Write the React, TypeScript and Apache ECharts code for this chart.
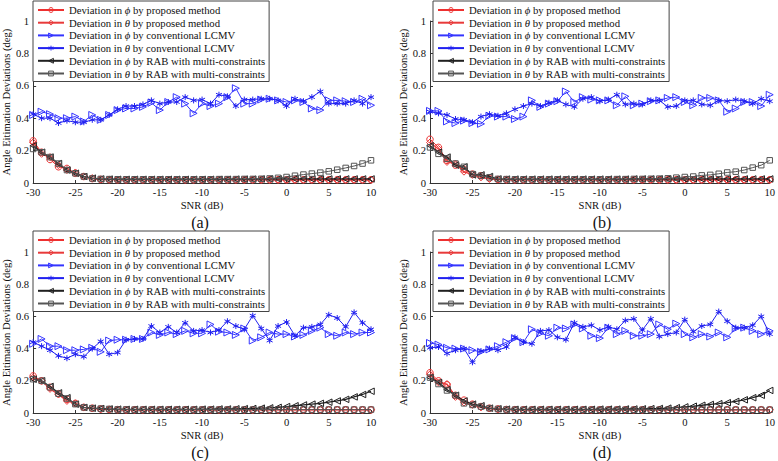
import React, { useEffect, useRef } from "react";
import * as echarts from "echarts";

const SNR = [
  -30, -29, -28, -27, -26, -25, -24, -23, -22, -21,
  -20, -19, -18, -17, -16, -15, -14, -13, -12, -11,
  -10, -9, -8, -7, -6, -5, -4, -3, -2, -1,
  0, 1, 2, 3, 4, 5, 6, 7, 8, 9, 10,
];

const X_TICKS = [-30, -25, -20, -15, -10, -5, 0, 5, 10];
const Y_TICKS = [0, 0.2, 0.4, 0.6, 0.8, 1];

const SERIES_NAMES = [
  "Deviation in ϕ by proposed method",
  "Deviation in θ by proposed method",
  "Deviation in ϕ by conventional LCMV",
  "Deviation in θ by conventional LCMV",
  "Deviation in ϕ by RAB with multi-constraints",
  "Deviation in θ by RAB with multi-constraints",
];

const PANEL_LABELS = ["(a)", "(b)", "(c)", "(d)"];

// ---------- (a) ----------
const A_phiProp = [
  0.26, 0.19, 0.145, 0.1, 0.09, 0.06, 0.04, 0.027, 0.022, 0.021,
  0.02, 0.02, 0.02, 0.02, 0.02, 0.02, 0.02, 0.02, 0.02, 0.02,
  0.02, 0.02, 0.02, 0.02, 0.02, 0.02, 0.02, 0.02, 0.02, 0.02,
  0.02, 0.02, 0.02, 0.02, 0.02, 0.02, 0.02, 0.02, 0.02, 0.02, 0.02,
];
const A_thetaProp = [
  0.25, 0.18, 0.16, 0.11, 0.08, 0.065, 0.04, 0.03, 0.022, 0.021,
  0.021, 0.02, 0.02, 0.02, 0.02, 0.02, 0.02, 0.02, 0.02, 0.02,
  0.02, 0.02, 0.02, 0.02, 0.02, 0.02, 0.02, 0.02, 0.02, 0.02,
  0.02, 0.02, 0.02, 0.02, 0.02, 0.02, 0.02, 0.02, 0.02, 0.02, 0.02,
];
const A_phiLC = [
  0.42, 0.44, 0.425, 0.4, 0.4, 0.41, 0.38, 0.42, 0.39, 0.42,
  0.45, 0.46, 0.46, 0.47, 0.495, 0.45, 0.5, 0.53, 0.49, 0.43,
  0.49, 0.475, 0.49, 0.53, 0.585, 0.49, 0.49, 0.515, 0.52, 0.51,
  0.5, 0.51, 0.5, 0.46, 0.45, 0.51, 0.51, 0.505, 0.5, 0.52, 0.48,
];
const A_thetaLC = [
  0.425, 0.4, 0.4, 0.37, 0.385, 0.375, 0.375, 0.39, 0.39, 0.42,
  0.455, 0.475, 0.475, 0.485, 0.51, 0.49, 0.5, 0.5, 0.53, 0.51,
  0.515, 0.49, 0.545, 0.535, 0.475, 0.515, 0.515, 0.52, 0.52, 0.51,
  0.475, 0.52, 0.505, 0.53, 0.565, 0.49, 0.49, 0.49, 0.51, 0.49, 0.53,
];
const A_phiRAB = [
  0.23, 0.19, 0.16, 0.12, 0.08, 0.06, 0.04, 0.03, 0.025, 0.024,
  0.023, 0.023, 0.023, 0.023, 0.023, 0.023, 0.023, 0.023, 0.023, 0.023,
  0.023, 0.023, 0.023, 0.023, 0.024, 0.024, 0.024, 0.025, 0.025, 0.025,
  0.025, 0.025, 0.025, 0.025, 0.025, 0.025, 0.025, 0.025, 0.025, 0.025, 0.025,
];
const A_thetaRAB = [
  0.21, 0.19, 0.16, 0.12, 0.08, 0.06, 0.04, 0.028, 0.025, 0.024,
  0.023, 0.023, 0.023, 0.023, 0.023, 0.023, 0.023, 0.023, 0.023, 0.023,
  0.023, 0.023, 0.024, 0.024, 0.024, 0.025, 0.025, 0.026, 0.028, 0.032,
  0.037, 0.045, 0.052, 0.058, 0.064, 0.072, 0.082, 0.093, 0.105, 0.12, 0.14,
];

// ---------- (b) ----------
const B_phiProp = [
  0.27, 0.22, 0.14, 0.11, 0.085, 0.055, 0.045, 0.03, 0.022, 0.021,
  0.02, 0.02, 0.02, 0.02, 0.02, 0.02, 0.02, 0.02, 0.02, 0.02,
  0.02, 0.02, 0.02, 0.02, 0.02, 0.02, 0.02, 0.02, 0.02, 0.02,
  0.02, 0.02, 0.02, 0.02, 0.02, 0.02, 0.02, 0.02, 0.02, 0.02, 0.02,
];
const B_thetaProp = [
  0.25, 0.21, 0.13, 0.12, 0.07, 0.05, 0.035, 0.025, 0.021, 0.02,
  0.02, 0.02, 0.02, 0.02, 0.02, 0.02, 0.02, 0.02, 0.02, 0.02,
  0.02, 0.02, 0.02, 0.02, 0.02, 0.02, 0.02, 0.02, 0.02, 0.02,
  0.02, 0.02, 0.02, 0.02, 0.02, 0.02, 0.02, 0.02, 0.02, 0.02, 0.02,
];
const B_phiLC = [
  0.445, 0.445, 0.38, 0.37, 0.385, 0.37, 0.365, 0.415, 0.41, 0.41,
  0.395, 0.41, 0.51, 0.47, 0.49, 0.505, 0.565, 0.5, 0.53, 0.515,
  0.51, 0.51, 0.48, 0.535, 0.48, 0.49, 0.505, 0.51, 0.525, 0.53,
  0.5, 0.48, 0.525, 0.525, 0.51, 0.44, 0.46, 0.5, 0.5, 0.475, 0.545,
];
const B_thetaLC = [
  0.44, 0.43, 0.42, 0.395, 0.39, 0.375, 0.41, 0.425, 0.415, 0.43,
  0.455, 0.475, 0.49, 0.475, 0.495, 0.51, 0.485, 0.47, 0.52, 0.53,
  0.505, 0.515, 0.545, 0.485, 0.49, 0.485, 0.51, 0.51, 0.47, 0.475,
  0.51, 0.51, 0.485, 0.48, 0.51, 0.505, 0.515, 0.505, 0.49, 0.52, 0.505,
];
const B_phiRAB = [
  0.23, 0.19, 0.16, 0.11, 0.1, 0.05, 0.05, 0.04, 0.025, 0.024,
  0.024, 0.024, 0.024, 0.024, 0.024, 0.024, 0.024, 0.024, 0.024, 0.024,
  0.024, 0.024, 0.024, 0.024, 0.025, 0.025, 0.025, 0.025, 0.025, 0.025,
  0.025, 0.025, 0.025, 0.025, 0.025, 0.025, 0.025, 0.025, 0.025, 0.025, 0.025,
];
const B_thetaRAB = [
  0.22, 0.18, 0.15, 0.12, 0.1, 0.055, 0.045, 0.035, 0.025, 0.024,
  0.023, 0.023, 0.023, 0.023, 0.023, 0.023, 0.023, 0.023, 0.023, 0.023,
  0.023, 0.023, 0.024, 0.024, 0.025, 0.025, 0.026, 0.027, 0.029, 0.033,
  0.037, 0.04, 0.047, 0.05, 0.057, 0.065, 0.07, 0.08, 0.095, 0.11, 0.14,
];

// ---------- (c) ----------
const C_phiProp = [
  0.23, 0.2, 0.16, 0.12, 0.085, 0.06, 0.035, 0.03, 0.025, 0.022,
  0.021, 0.02, 0.02, 0.02, 0.02, 0.02, 0.02, 0.02, 0.02, 0.02,
  0.02, 0.02, 0.02, 0.02, 0.02, 0.02, 0.02, 0.02, 0.02, 0.02,
  0.02, 0.02, 0.02, 0.02, 0.02, 0.02, 0.02, 0.02, 0.02, 0.02, 0.02,
];
const C_thetaProp = [
  0.22, 0.2, 0.15, 0.115, 0.075, 0.06, 0.035, 0.028, 0.024, 0.022,
  0.021, 0.02, 0.02, 0.02, 0.02, 0.02, 0.02, 0.02, 0.02, 0.02,
  0.02, 0.02, 0.02, 0.02, 0.02, 0.02, 0.02, 0.02, 0.02, 0.02,
  0.02, 0.02, 0.02, 0.02, 0.02, 0.02, 0.02, 0.02, 0.02, 0.02, 0.02,
];
const C_phiLC = [
  0.43, 0.46, 0.415, 0.415, 0.39, 0.39, 0.395, 0.405, 0.38, 0.45,
  0.455, 0.455, 0.46, 0.46, 0.5, 0.485, 0.5, 0.49, 0.51, 0.495,
  0.495, 0.55, 0.505, 0.5, 0.485, 0.525, 0.45, 0.47, 0.5, 0.49,
  0.49, 0.475, 0.485, 0.51, 0.53, 0.49, 0.48, 0.5, 0.49, 0.5, 0.5,
];
const C_thetaLC = [
  0.44, 0.415, 0.39, 0.355, 0.34, 0.365, 0.35, 0.4, 0.445, 0.365,
  0.375, 0.455, 0.46, 0.46, 0.54, 0.5, 0.535, 0.5, 0.56, 0.51,
  0.515, 0.5, 0.515, 0.57, 0.54, 0.52, 0.605, 0.525, 0.45, 0.54,
  0.565, 0.48, 0.53, 0.535, 0.55, 0.61, 0.59, 0.535, 0.625, 0.56, 0.52,
];
const C_phiRAB = [
  0.21, 0.2, 0.165, 0.125, 0.095, 0.055, 0.035, 0.03, 0.028, 0.025,
  0.024, 0.023, 0.023, 0.023, 0.023, 0.023, 0.023, 0.023, 0.023, 0.023,
  0.024, 0.024, 0.025, 0.025, 0.026, 0.027, 0.028, 0.03, 0.032, 0.035,
  0.04, 0.045, 0.05, 0.055, 0.06, 0.067, 0.075, 0.085, 0.1, 0.115, 0.135,
];
const C_thetaRAB = [
  0.21, 0.2, 0.16, 0.12, 0.09, 0.055, 0.035, 0.03, 0.027, 0.025,
  0.022, 0.022, 0.021, 0.021, 0.021, 0.021, 0.021, 0.021, 0.021, 0.021,
  0.021, 0.021, 0.021, 0.021, 0.021, 0.021, 0.021, 0.021, 0.021, 0.021,
  0.021, 0.021, 0.021, 0.021, 0.021, 0.021, 0.021, 0.021, 0.021, 0.021, 0.021,
];

// ---------- (d) ----------
const D_phiProp = [
  0.25, 0.2, 0.175, 0.11, 0.08, 0.055, 0.04, 0.03, 0.025, 0.022,
  0.021, 0.02, 0.02, 0.02, 0.02, 0.02, 0.02, 0.02, 0.02, 0.02,
  0.02, 0.02, 0.02, 0.02, 0.02, 0.02, 0.02, 0.02, 0.02, 0.02,
  0.02, 0.02, 0.02, 0.02, 0.02, 0.02, 0.02, 0.02, 0.02, 0.02, 0.02,
];
const D_thetaProp = [
  0.24, 0.19, 0.18, 0.1, 0.065, 0.05, 0.035, 0.028, 0.023, 0.021,
  0.02, 0.02, 0.02, 0.02, 0.02, 0.02, 0.02, 0.02, 0.02, 0.02,
  0.02, 0.02, 0.02, 0.02, 0.02, 0.02, 0.02, 0.02, 0.02, 0.02,
  0.02, 0.02, 0.02, 0.02, 0.02, 0.02, 0.02, 0.02, 0.02, 0.02, 0.02,
];
const D_phiLC = [
  0.435, 0.425, 0.405, 0.4, 0.4, 0.39, 0.38, 0.395, 0.415, 0.44,
  0.465, 0.44, 0.52, 0.495, 0.48, 0.53, 0.525, 0.55, 0.525, 0.48,
  0.465, 0.53, 0.49, 0.51, 0.48, 0.48, 0.49, 0.55, 0.52, 0.555,
  0.49, 0.47, 0.49, 0.475, 0.5, 0.47, 0.525, 0.53, 0.51, 0.49, 0.51,
];
const D_thetaLC = [
  0.405, 0.41, 0.37, 0.39, 0.4, 0.315, 0.385, 0.4, 0.39, 0.41,
  0.47, 0.44, 0.43, 0.51, 0.515, 0.47, 0.455, 0.56, 0.535, 0.545,
  0.515, 0.535, 0.52, 0.575, 0.585, 0.515, 0.585, 0.475, 0.49, 0.5,
  0.58, 0.505, 0.54, 0.55, 0.63, 0.57, 0.53, 0.53, 0.545, 0.6, 0.49,
];
const D_phiRAB = [
  0.22, 0.19, 0.145, 0.11, 0.075, 0.055, 0.045, 0.03, 0.026, 0.024,
  0.023, 0.023, 0.023, 0.023, 0.023, 0.023, 0.023, 0.023, 0.023, 0.023,
  0.024, 0.024, 0.024, 0.025, 0.025, 0.026, 0.027, 0.028, 0.03, 0.033,
  0.038, 0.042, 0.048, 0.053, 0.058, 0.064, 0.072, 0.082, 0.095, 0.11, 0.14,
];
const D_thetaRAB = [
  0.22, 0.18, 0.14, 0.11, 0.06, 0.05, 0.04, 0.03, 0.025, 0.022,
  0.021, 0.02, 0.02, 0.02, 0.02, 0.02, 0.02, 0.02, 0.02, 0.02,
  0.02, 0.02, 0.02, 0.02, 0.02, 0.02, 0.02, 0.02, 0.02, 0.02,
  0.02, 0.02, 0.02, 0.02, 0.02, 0.02, 0.02, 0.02, 0.02, 0.02, 0.02,
];

const PANELS = [
  [A_phiProp, A_thetaProp, A_phiLC, A_thetaLC, A_phiRAB, A_thetaRAB],
  [B_phiProp, B_thetaProp, B_phiLC, B_thetaLC, B_phiRAB, B_thetaRAB],
  [C_phiProp, C_thetaProp, C_phiLC, C_thetaLC, C_phiRAB, C_thetaRAB],
  [D_phiProp, D_thetaProp, D_phiLC, D_thetaLC, D_phiRAB, D_thetaRAB],
];

const ASTERISK = "path://M0,-10L0,10M-8.66,-5L8.66,5M-8.66,5L8.66,-5";

const STYLES = [
  { symbol: "circle", rotate: 0, size: 6.5, color: "#ee3030", width: 1 },
  { symbol: "diamond", rotate: 0, size: 7, color: "#e83a3a", width: 1.3 },
  { symbol: "triangle", rotate: -90, size: 7, color: "#3535ff", width: 1 },
  { symbol: ASTERISK, rotate: 0, size: 6, color: "#2020f0", width: 1 },
  { symbol: "triangle", rotate: 90, size: 6.5, color: "#202020", width: 1.3 },
  { symbol: "rect", rotate: 0, size: 5.5, color: "#555555", width: 1 },
];

const FONT = '"Liberation Serif", "Times New Roman", serif';

const GRIDS = [
  { left: 29, top: 21, width: 342, height: 162 },
  { left: 430, top: 21, width: 344, height: 162 },
  { left: 29, top: 252, width: 342, height: 161 },
  { left: 430, top: 252, width: 344, height: 161 },
];
const LEGEND_POS = [
  { left: 33, top: 1 },
  { left: 433, top: 1 },
  { left: 33, top: 231 },
  { left: 433, top: 231 },
];

export default function App() {
  const ref = useRef<HTMLDivElement>(null);

  useEffect(() => {
    if (!ref.current) return;
    const chart = echarts.init(ref.current, undefined, { renderer: "svg" });

    const xAxes = GRIDS.map((_, p) => ({
      type: "value",
      gridIndex: p,
      min: -30,
      max: 10,
      interval: 5,
      name: "SNR (dB)",
      nameLocation: "middle",
      nameGap: 17,
      nameTextStyle: { fontFamily: FONT, fontSize: 10.6, color: "#111", verticalAlign: "top" },
      axisLine: { show: true, onZero: false, lineStyle: { color: "#333", width: 1 } },
      axisTick: { show: true, inside: true, length: 3, lineStyle: { color: "#333" } },
      axisLabel: { fontFamily: FONT, fontSize: 10.6, color: "#111", margin: 4 },
      splitLine: { show: false },
    }));

    const yAxes = GRIDS.map((_, p) => ({
      type: "value",
      gridIndex: p,
      min: 0,
      max: 1,
      interval: 0.2,
      name: "Angle Eitimation Deviations (deg)",
      nameLocation: "middle",
      nameGap: 18,
      nameTextStyle: { fontFamily: FONT, fontSize: 10.6, color: "#111" },
      axisLine: { show: true, onZero: false, lineStyle: { color: "#333", width: 1 } },
      axisTick: { show: true, inside: true, length: 3, lineStyle: { color: "#333" } },
      axisLabel: {
        fontFamily: FONT,
        fontSize: 10.6,
        color: "#111",
        margin: 4,
        formatter: (v: number) => String(Math.round(v * 10) / 10),
      },
      splitLine: { show: false },
    }));

    const series: any[] = [];
    PANELS.forEach((panel, p) => {
      panel.forEach((vals, s) => {
        const st = STYLES[s];
        series.push({
          type: "line",
          name: SERIES_NAMES[s],
          xAxisIndex: p,
          yAxisIndex: p,
          data: SNR.map((x, i) => [x, vals[i]]),
          symbol: st.symbol,
          symbolSize: st.size,
          symbolRotate: st.rotate,
          showAllSymbol: true,
          lineStyle: { color: st.color, width: st.width },
          itemStyle: { color: "rgba(255,255,255,0)", borderColor: st.color, borderWidth: 1 },
          emphasis: { disabled: true },
          z: 2 + s,
        });
      });
    });

    const legends = LEGEND_POS.map((pos) => ({
      ...pos,
      orient: "vertical",
      data: SERIES_NAMES,
      backgroundColor: "#fff",
      borderColor: "#444",
      borderWidth: 1,
      padding: [3, 4, 2, 4],
      itemWidth: 26,
      itemHeight: 6,
      itemGap: 0.7,
      selectedMode: false,
      itemStyle: { color: "rgba(255,255,255,0)", borderWidth: 1 },
      textStyle: {
        fontFamily: FONT,
        fontSize: 10.7,
        color: "#111",
        lineHeight: 12,
        rich: {
          i: { fontFamily: FONT, fontSize: 10.7, fontStyle: "italic", color: "#111", lineHeight: 12 },
          n: { fontFamily: FONT, fontSize: 10.7, color: "#111", lineHeight: 12 },
        },
      },
      formatter: (name: string) => {
        const m = name.match(/^(.*?)([ϕθ])(.*)$/);
        if (!m) return name;
        return `{n|${m[1]}}{i|${m[2]}}{n|${m[3]}}`;
      },
      z: 20,
    }));

    const graphic = GRIDS.map((g, p) => ({
      type: "text",
      x: g.left + g.width / 2,
      y: p < 2 ? 222 : 452,
      style: {
        text: PANEL_LABELS[p],
        fontFamily: FONT,
        fontSize: 16,
        fill: "#111",
        textAlign: "center",
        textVerticalAlign: "middle",
      },
    }));

    chart.setOption({
      animation: false,
      backgroundColor: "#fff",
      grid: GRIDS.map((g) => ({ ...g, containLabel: false })),
      xAxis: xAxes,
      yAxis: yAxes,
      legend: legends,
      series,
      graphic,
    });

    return () => chart.dispose();
  }, []);

  return (
    <div
      ref={ref}
      style={{ position: "fixed", left: 0, top: 0, width: 778, height: 461, background: "#fff" }}
    />
  );
}
